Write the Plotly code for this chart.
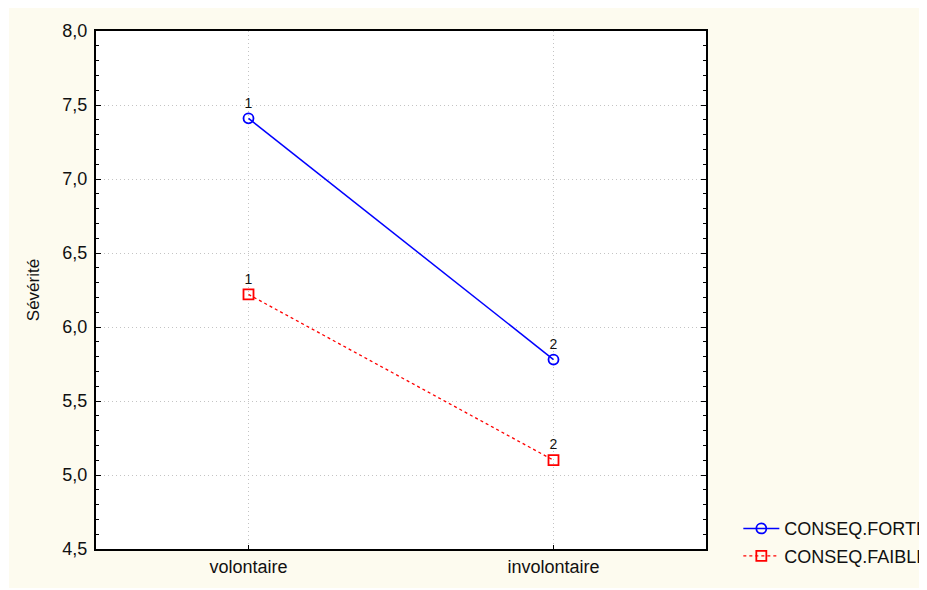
import plotly.graph_objects as go

categories = ["volontaire", "involontaire"]
forte = [7.41, 5.78]
faible = [6.22, 5.10]
point_labels = ["1", "2"]
y_title = "Sévérité"

FONT = "Liberation Sans, Arial, sans-serif"
CREAM = "#FDFBEF"

fig = go.Figure()
fig.add_trace(go.Scatter(
    x=categories, y=forte, name="CONSEQ.FORTE", legendgroup="a",
    mode="lines+markers+text", text=point_labels, textposition="top center",
    textfont=dict(size=14, color="#111"),
    line=dict(color="#0000FF", width=1.5),
    marker=dict(symbol="circle-open", size=10, color="#0000FF", line=dict(width=1.8)),
))
fig.add_trace(go.Scatter(
    x=categories, y=faible, name="CONSEQ.FAIBLE", legendgroup="b",
    mode="lines+markers+text", text=point_labels, textposition="top center",
    textfont=dict(size=14, color="#111"),
    line=dict(color="#FF0000", width=1.3, dash="dot"),
    marker=dict(symbol="square-open", size=10, color="#FF0000", line=dict(width=1.8)),
))

fig.update_layout(
    width=919, height=582,
    margin=dict(l=88, r=221, t=23, b=41, autoexpand=False),
    paper_bgcolor="white", plot_bgcolor="white",
    separators=", ",
    font=dict(family=FONT, size=18, color="#111"),
    showlegend=True,
    legend=dict(x=1.053, y=0.013, xanchor="left", yanchor="middle",
                bgcolor="rgba(0,0,0,0)", font=dict(size=18),
                tracegroupgap=1, traceorder="grouped", itemwidth=36),
    shapes=[
        dict(type="rect", xref="paper", yref="paper", x0=-0.1426, x1=1.3623,
             y0=-0.0753, y1=1.06, fillcolor=CREAM, line=dict(width=0), layer="below"),
        dict(type="rect", xref="paper", yref="paper", x0=0, x1=1, y0=0, y1=1,
             fillcolor="white", line=dict(width=0), layer="below"),
    ],
)
fig.update_xaxes(
    range=[-0.5, 1.5], showline=True, linecolor="black", linewidth=2, mirror=True,
    showgrid=True, gridcolor="#C4C4C4", griddash="1px,3px", gridwidth=1,
    ticks="inside", ticklen=4, tickcolor="black", tickfont=dict(size=18),
    zeroline=False,
)
fig.update_yaxes(
    range=[4.5, 8.0], dtick=0.5, tick0=4.5, tickformat=".1f",
    showline=True, linecolor="black", linewidth=2, mirror="ticks",
    showgrid=True, gridcolor="#C4C4C4", griddash="1px,3px", gridwidth=1,
    ticks="inside", ticklen=5, tickcolor="black", tickfont=dict(size=18),
    ticklabelstandoff=3,
    minor=dict(dtick=0.1, ticks="inside", ticklen=3, tickcolor="black", showgrid=False),
    title=dict(text=y_title, font=dict(size=17), standoff=18),
    zeroline=False,
)

fig.write_html("out.html")
